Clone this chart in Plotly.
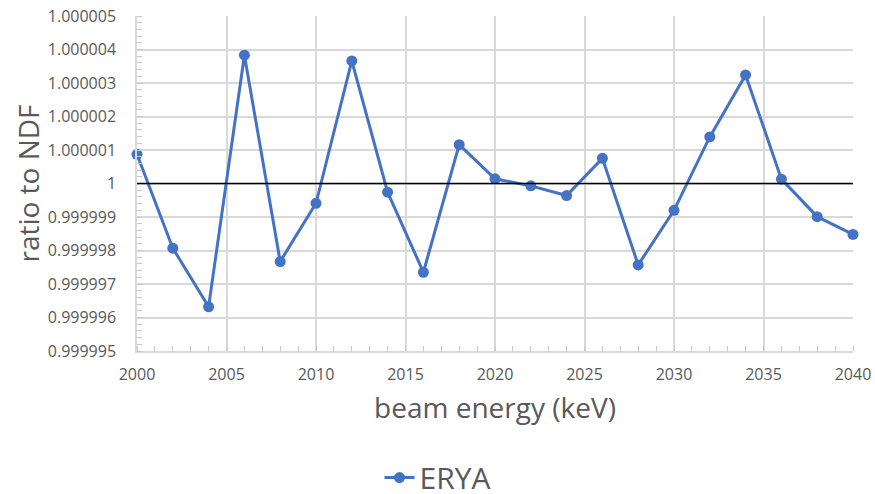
import plotly.graph_objects as go

energies = [2000, 2002, 2004, 2006, 2008, 2010, 2012, 2014, 2016, 2018, 2020,
            2022, 2024, 2026, 2028, 2030, 2032, 2034, 2036, 2038, 2040]
ratios = [1.00000087, 0.99999807, 0.99999632, 1.00000383, 0.99999767, 0.99999941,
          1.00000366, 0.99999974, 0.99999735, 1.00000116, 1.00000014, 0.99999993,
          0.99999964, 1.00000075, 0.99999757, 0.99999920, 1.00000139, 1.00000324,
          1.00000013, 0.99999901, 0.99999848]
y_tick_vals = [0.999995, 0.999996, 0.999997, 0.999998, 0.999999, 1.0,
               1.000001, 1.000002, 1.000003, 1.000004, 1.000005]
y_tick_text = ["0.999995", "0.999996", "0.999997", "0.999998", "0.999999", "1",
               "1.000001", "1.000002", "1.000003", "1.000004", "1.000005"]
x_tick_vals = [2000, 2005, 2010, 2015, 2020, 2025, 2030, 2035, 2040]
series_name = "ERYA"

FONT = "Open Sans"
GRAY = "#595959"
GRID = "#d9d9d9"
BLUE = "#4472C4"

fig = go.Figure()
fig.add_trace(go.Scatter(
    x=energies, y=ratios, name=series_name, mode="lines+markers",
    line=dict(color=BLUE, width=3),
    marker=dict(color=BLUE, size=11),
    cliponaxis=False,
))
fig.add_hline(y=1.0, line=dict(color="black", width=1.5), layer="above")

fig.update_layout(
    width=875, height=494,
    margin=dict(l=137, r=22, t=16, b=143, autoexpand=False),
    paper_bgcolor="white", plot_bgcolor="white",
    font=dict(family=FONT, color=GRAY, size=16),
    showlegend=True,
    legend=dict(orientation="h", xref="container", yref="container",
                x=0.5, xanchor="center", y=0.086, yanchor="top",
                font=dict(size=30, color=GRAY)),
    xaxis=dict(
        range=[2000, 2040], tickvals=x_tick_vals, ticktext=[str(v) for v in x_tick_vals],
        showgrid=True, gridcolor=GRID, gridwidth=1.5,
        showline=True, linecolor=GRID, linewidth=1.5,
        ticks="", ticklabelstandoff=8, zeroline=False, automargin=False,
        tickfont=dict(size=16, color=GRAY),
        title=dict(text="beam energy (keV)", font=dict(size=28, color=GRAY), standoff=14),
        minor=dict(dtick=1, tick0=2000, ticks="inside", ticklen=5, tickcolor="#c8c8c8",
                   tickwidth=1, showgrid=False),
    ),
    yaxis=dict(
        range=[0.999995, 1.000005], tickvals=y_tick_vals, ticktext=y_tick_text,
        showgrid=True, gridcolor=GRID, gridwidth=1.5,
        showline=True, linecolor=GRID, linewidth=1.5,
        ticks="", ticklabelstandoff=16, zeroline=False, automargin=False,
        tickfont=dict(size=16, color=GRAY),
        title=dict(text="ratio to NDF", font=dict(size=28, color=GRAY), standoff=0),
        minor=dict(dtick=2e-7, tick0=0.999995, ticks="inside", ticklen=5, tickcolor="#c8c8c8",
                   tickwidth=1, showgrid=False),
    ),
)

# remove the default 8px page margin so the figure fills the 875x494 window exactly
fig.write_html("out.html", config={"displayModeBar": False},
               post_script="document.body.style.margin='0';")
